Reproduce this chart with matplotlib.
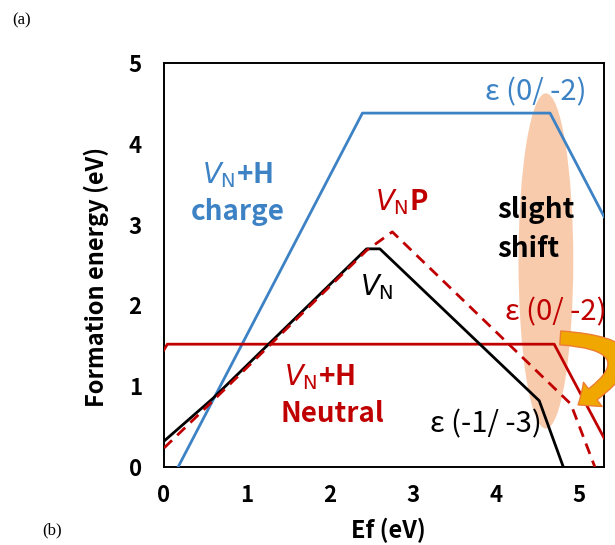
import matplotlib
matplotlib.use("Agg")
import matplotlib.pyplot as plt
from matplotlib.patches import Ellipse, FancyArrowPatch, ArrowStyle

plt.rcParams['font.family'] = ['Noto Sans CJK SC', 'DejaVu Sans']
plt.rcParams['mathtext.fontset'] = 'dejavusans'

# ---- data ----
charge_x = [0.17, 2.39, 4.65, 5.3]
charge_y = [0.0, 4.38, 4.38, 3.10]
vn_x = [0.0, 0.59, 2.44, 2.60, 4.52, 4.81]
vn_y = [0.32, 0.85, 2.70, 2.70, 0.82, 0.0]
vnp_x = [0.0, 0.60, 2.44, 2.75, 4.90, 5.19]
vnp_y = [0.235, 0.83, 2.68, 2.91, 0.78, 0.0]
neutral_x = [0.0, 0.04, 4.70, 5.3]
neutral_y = [1.45, 1.52, 1.52, 0.36]
xticks = [0, 1, 2, 3, 4, 5]
yticks = [0, 1, 2, 3, 4, 5]

BLUE = '#3C82C4'
RED = '#C00000'

fig = plt.figure(figsize=(6.15, 5.45), dpi=100)
ax = fig.add_axes([164/615, 78/545, 440/615, 404/545])
ax.set_xlim(0, 5.3)
ax.set_ylim(0, 5)

ax.add_patch(Ellipse((4.6, 2.55), 0.66, 4.15, facecolor='#F8CBAD', edgecolor='none', zorder=1))

lw = 2.0
ax.plot(charge_x, charge_y, color=BLUE, lw=lw, zorder=3)
ax.plot(neutral_x, neutral_y, color=RED, lw=lw, zorder=3)
ax.plot(vn_x, vn_y, color='black', lw=lw, zorder=3)
ax.plot(vnp_x, vnp_y, color=RED, lw=lw, ls=(0, (4, 2.6)), zorder=4)

arr = FancyArrowPatch((4.74, 1.60), (4.96, 0.75),
                      connectionstyle="arc3,rad=-1.5",
                      arrowstyle=ArrowStyle.Simple(head_length=0.65, head_width=1.1, tail_width=0.5),
                      mutation_scale=20, facecolor='#F0A800', edgecolor='#ED7D31',
                      lw=1.0, zorder=5, clip_on=False)
ax.add_patch(arr)

fs = 20
tk = dict(fontsize=fs, zorder=6)
ek = dict(fontsize=21, zorder=6)
ax.text(4.48, 4.54, 'ε (0/ -2)', color=BLUE, ha='center', va='baseline', **ek)
ax.text(0.89, 3.51, r'$V_{\mathrm{N}}$+H', color=BLUE, ha='center', va='baseline', fontweight='bold', **tk)
ax.text(0.89, 3.06, 'charge', color=BLUE, ha='center', va='baseline', fontweight='bold', **tk)
ax.text(2.86, 3.18, r'$V_{\mathrm{N}}$P', color=RED, ha='center', va='baseline', fontweight='bold', **tk)
ax.text(4.01, 3.08, 'slight', color='black', ha='left', va='baseline', fontweight='bold', **tk)
ax.text(4.01, 2.60, 'shift', color='black', ha='left', va='baseline', fontweight='bold', **tk)
ax.text(2.56, 2.13, r'$V_{\mathrm{N}}$', color='black', ha='center', va='baseline', **tk)
ax.text(4.72, 1.82, 'ε (0/ -2)', color=RED, ha='center', va='baseline', clip_on=False, **ek)
ax.text(1.87, 1.01, r'$V_{\mathrm{N}}$+H', color=RED, ha='center', va='baseline', fontweight='bold', **tk)
ax.text(2.03, 0.56, 'Neutral', color=RED, ha='center', va='baseline', fontweight='bold', **tk)
ax.text(3.88, 0.43, 'ε (-1/ -3)', color='black', ha='center', va='baseline', **ek)

ax.set_xticks(xticks)
ax.set_yticks(yticks)
ax.tick_params(length=0, labelsize=16)
ax.tick_params(axis='x', pad=12)
ax.tick_params(axis='y', pad=16)
for lab in ax.get_xticklabels() + ax.get_yticklabels():
    lab.set_fontweight('bold')
for s in ax.spines.values():
    s.set_linewidth(1.4)
    s.set_color('black')

ax.set_xlabel('Ef (eV)', fontsize=17, fontweight='bold')
ax.set_ylabel('Formation energy (eV)', fontsize=17, fontweight='bold')
ax.xaxis.set_label_coords(0.509, -0.125)
ax.yaxis.set_label_coords(-0.125, 0.47)

fig.text(22/615, 1 - 20/545, '(a)', fontsize=12, family='Liberation Serif', ha='center', va='center')
fig.text(52/615, 1 - 530/545, '(b)', fontsize=12, family='Liberation Serif', ha='center', va='center')

fig.savefig('out.png', dpi=100)
